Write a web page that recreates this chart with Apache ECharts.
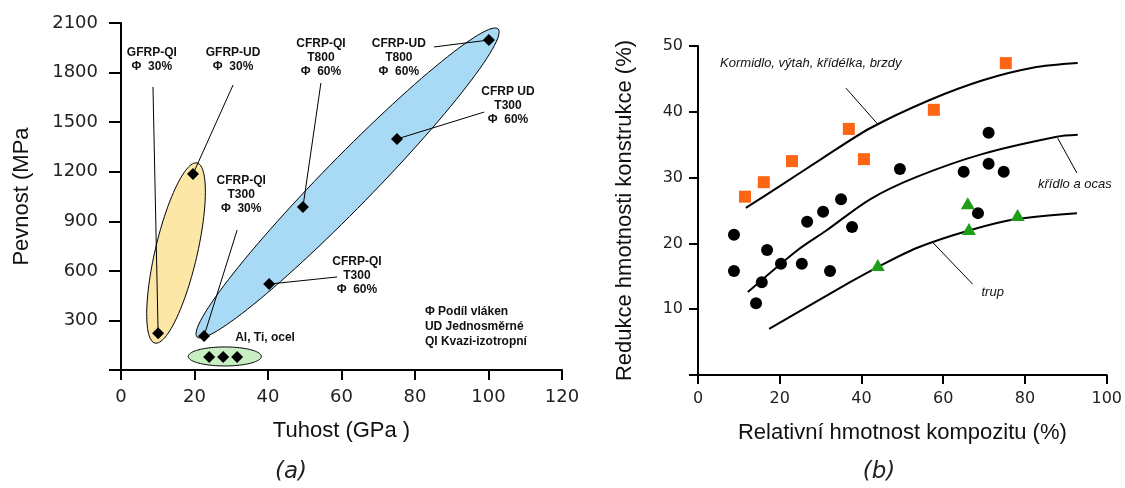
<!DOCTYPE html>
<html>
<head>
<meta charset="utf-8">
<script src="https://cdn.jsdelivr.net/npm/echarts@6/dist/echarts.min.js"></script>
<style>
  html, body { margin: 0; padding: 0; background: #fff; }
  #chart { width: 1125px; height: 488px; }
</style>
</head>
<body>
<div id="chart"></div>
<script>
// ---------- (a) Pevnost vs. tuhost materiálů ----------
const stiffnessTicks = [0, 20, 40, 60, 80, 100, 120];
const strengthTicks = [0, 300, 600, 900, 1200, 1500, 1800, 2100];

// [tuhost GPa, pevnost MPa]
const gfrpPoints = [[10.1, 222], [19.6, 1186]];
const cfrpPoints = [[22.6, 206], [40.3, 520], [49.5, 986], [75.1, 1398], [100.1, 1997]];
const metalPoints = [[24.0, 78], [27.8, 78], [31.6, 78]];

// material families as ellipses: [x1, y1, x2, y2] tips of the long axis, width ratio
const familyRegions = [
  [9.25, 163, 20.7, 1253, 0.227],   // GFRP
  [20.7, 200, 102.6, 2064, 0.116],  // CFRP
  [18.3, 82, 38.2, 82, 0.26]        // kovy
];

const materialLabels = [
  'GFRP-QI\nΦ  30%',
  'GFRP-UD\nΦ  30%',
  'CFRP-QI\nT300\nΦ  30%',
  'CFRP-QI\nT800\nΦ  60%',
  'CFRP-UD\nT800\nΦ  60%',
  'CFRP UD\nT300\nΦ  60%',
  'CFRP-QI\nT300\nΦ  60%',
  'Al, Ti, ocel'
];
const materialLabelAt = [
  [8.4, 1876], [30.5, 1876], [32.7, 1059], [54.4, 1888],
  [75.6, 1888], [105.3, 1598], [64.2, 569], [39.2, 194]
];
// leader lines: label end -> point
const materialLeaders = [
  [8.7, 1713, 10.1, 222],
  [30.5, 1725, 19.6, 1186],
  [31.6, 847, 22.6, 206],
  [54.4, 1737, 49.5, 986],
  [85.2, 1955, 100.1, 1997],
  [98.8, 1561, 75.1, 1398],
  [58.8, 563, 40.3, 520]
];
const legendNote = 'Φ Podíl vláken\nUD Jednosměrné\nQI Kvazi-izotropní';
const legendNoteAt = [[82.7, 260]];

// ---------- (b) Redukce hmotnosti konstrukce ----------
const massTicks = [0, 20, 40, 60, 80, 100];
const reductionTicks = [0, 10, 20, 30, 40, 50];

const controlSurfacePoints = [[11.5, 27.1], [16.1, 29.3], [23.0, 32.5], [36.9, 37.4], [40.6, 32.8], [57.7, 40.3], [75.3, 47.4]];
const wingTailPoints = [
  [8.8, 21.3], [26.7, 23.3], [30.6, 24.8], [35.0, 26.7], [37.7, 22.5],
  [8.8, 15.8], [16.9, 19.0], [20.3, 16.9], [15.6, 14.1], [14.2, 10.9],
  [25.4, 16.9], [32.3, 15.8], [49.4, 31.3], [65.0, 30.9], [71.1, 36.8],
  [71.1, 32.1], [74.8, 30.9], [68.5, 24.6]
];
const fuselagePoints = [[44.0, 16.7], [66.0, 26.1], [66.3, 22.2], [78.2, 24.3]];

const controlSurfaceTrend = [[11.7, 25.4], [20.0, 28.7], [30.6, 33.0], [42.1, 37.5], [56.7, 41.8], [69.7, 44.8], [81.9, 46.7], [92.9, 47.4]];
const wingTailTrend = [[12.2, 12.6], [24.4, 19.0], [31.5, 22.0], [42.1, 26.7], [53.5, 30.1], [69.7, 33.6], [87.8, 36.2], [92.9, 36.5]];
const fuselageTrend = [[17.4, 7.0], [37.2, 14.1], [44.0, 16.4], [53.5, 19.3], [66.5, 22.0], [78.0, 23.7], [92.7, 24.6]];

const trendLabels = ['Kormidlo, výtah, křídélka, brzdy', 'křídlo a ocas', 'trup'];
const trendLabelAt = [[5.4, 47.4], [92.2, 28.9], [72.1, 12.5]];
const trendLeaders = [
  [36.2, 43.6, 44.0, 38.1],
  [88.0, 36.0, 92.7, 30.7],
  [57.5, 20.1, 67.2, 13.8]
];

// ---------- styles ----------
const regionColors = ['#fde7a6', '#a8daf5', '#c7efc2'];
const tickFont = '"DejaVu Sans", sans-serif';
const textFont = '"Liberation Sans", Arial, sans-serif';

function valueAxisBase(ticks, labelSize, margin, tickLen, hideZero) {
  return {
    type: 'value',
    min: ticks[0],
    max: ticks[ticks.length - 1],
    interval: ticks[1] - ticks[0],
    splitLine: { show: false },
    axisLine: { show: true, onZero: false, lineStyle: { color: '#000', width: 2 } },
    axisTick: { show: true, inside: false, length: tickLen, lineStyle: { color: '#000', width: 2 } },
    axisLabel: {
      color: '#222', fontFamily: tickFont, fontSize: labelSize, margin: margin,
      formatter: v => (hideZero && v === 0) ? '' : String(v)
    },
    nameLocation: 'middle',
    nameTextStyle: { color: '#111', fontFamily: textFont, fontSize: 22 }
  };
}

function ellipseItem(params, api) {
  const p1 = api.coord([api.value(0), api.value(1)]);
  const p2 = api.coord([api.value(2), api.value(3)]);
  const ratio = api.value(4);
  const cx = (p1[0] + p2[0]) / 2, cy = (p1[1] + p2[1]) / 2;
  const dx = p2[0] - p1[0], dy = p2[1] - p1[1];
  const a = Math.sqrt(dx * dx + dy * dy) / 2, b = a * ratio;
  const th = Math.atan2(dy, dx);
  const pts = [];
  for (let i = 0; i < 120; i++) {
    const t = i / 120 * Math.PI * 2;
    pts.push([
      cx + a * Math.cos(t) * Math.cos(th) - b * Math.sin(t) * Math.sin(th),
      cy + a * Math.cos(t) * Math.sin(th) + b * Math.sin(t) * Math.cos(th)
    ]);
  }
  return {
    type: 'polygon',
    shape: { points: pts },
    style: { fill: regionColors[params.dataIndex], stroke: '#000', lineWidth: 1 }
  };
}

function leaderItem(params, api) {
  const p1 = api.coord([api.value(0), api.value(1)]);
  const p2 = api.coord([api.value(2), api.value(3)]);
  return {
    type: 'line',
    shape: { x1: p1[0], y1: p1[1], x2: p2[0], y2: p2[1] },
    style: { stroke: '#000', lineWidth: 1 }
  };
}

function textSeries(xIdx, yIdx, anchors, texts, font, align, lineHeight) {
  return {
    type: 'custom',
    xAxisIndex: xIdx, yAxisIndex: yIdx,
    z: 6, silent: true,
    data: anchors,
    renderItem: (params, api) => {
      const p = api.coord([api.value(0), api.value(1)]);
      const al = Array.isArray(align) ? align[params.dataIndex] : align;
      return {
        type: 'text', x: p[0], y: p[1],
        style: {
          text: texts[params.dataIndex], fill: '#111', font: font,
          align: al, verticalAlign: 'middle', lineHeight: lineHeight
        }
      };
    }
  };
}

function markSeries(xIdx, yIdx, symbol, size, color, data) {
  return {
    type: 'scatter', xAxisIndex: xIdx, yAxisIndex: yIdx, z: 3,
    symbol: symbol, symbolSize: size,
    itemStyle: { color: color, opacity: 1 },
    data: data
  };
}

const chart = echarts.init(document.getElementById('chart'), null, { renderer: 'canvas' });

const option = {
  animation: false,
  backgroundColor: '#fff',
  grid: [
    { left: 121, top: 23, width: 441, height: 347, containLabel: false },
    { left: 698, top: 46, width: 409, height: 329, containLabel: false }
  ],
  xAxis: [
    Object.assign(valueAxisBase(stiffnessTicks, 18, 18, 10, false), {
      gridIndex: 0, name: 'Tuhost (GPa )', nameGap: 50
    }),
    Object.assign(valueAxisBase(massTicks, 16, 16, 9, false), {
      gridIndex: 1, name: 'Relativní hmotnost kompozitu (%)', nameGap: 47
    })
  ],
  yAxis: [
    Object.assign(valueAxisBase(strengthTicks, 18, 23, 12, true), {
      gridIndex: 0, name: 'Pevnost (MPa', nameGap: 88
    }),
    Object.assign(valueAxisBase(reductionTicks, 16, 15, 9, true), {
      gridIndex: 1, name: 'Redukce hmotnosti konstrukce (%)', nameGap: 62
    })
  ],
  graphic: [
    { type: 'text', x: 291, y: 472, style: { text: '(a)', font: 'italic 23px "DejaVu Sans", sans-serif', fill: '#222', align: 'center', verticalAlign: 'middle' } },
    { type: 'text', x: 879, y: 472, style: { text: '(b)', font: 'italic 23px "DejaVu Sans", sans-serif', fill: '#222', align: 'center', verticalAlign: 'middle' } }
  ],
  series: [
    // (a)
    { type: 'custom', xAxisIndex: 0, yAxisIndex: 0, z: 1, silent: true, data: familyRegions, renderItem: ellipseItem },
    { type: 'custom', xAxisIndex: 0, yAxisIndex: 0, z: 2, silent: true, data: materialLeaders, renderItem: leaderItem },
    markSeries(0, 0, 'diamond', 12, '#000', gfrpPoints),
    markSeries(0, 0, 'diamond', 12, '#000', cfrpPoints),
    markSeries(0, 0, 'diamond', 12, '#000', metalPoints),
    textSeries(0, 0, materialLabelAt, materialLabels, 'bold 12px "Liberation Sans", Arial, sans-serif', 'center', 14),
    textSeries(0, 0, legendNoteAt, [legendNote], 'bold 12px "Liberation Sans", Arial, sans-serif', 'left', 15),

    // (b)
    { type: 'line', xAxisIndex: 1, yAxisIndex: 1, z: 2, smooth: 0.3, showSymbol: false, silent: true, lineStyle: { color: '#000', width: 2 }, data: controlSurfaceTrend },
    { type: 'line', xAxisIndex: 1, yAxisIndex: 1, z: 2, smooth: 0.3, showSymbol: false, silent: true, lineStyle: { color: '#000', width: 2 }, data: wingTailTrend },
    { type: 'line', xAxisIndex: 1, yAxisIndex: 1, z: 2, smooth: 0.3, showSymbol: false, silent: true, lineStyle: { color: '#000', width: 2 }, data: fuselageTrend },
    { type: 'custom', xAxisIndex: 1, yAxisIndex: 1, z: 2, silent: true, data: trendLeaders, renderItem: leaderItem },
    markSeries(1, 1, 'rect', 12, '#fb6514', controlSurfacePoints),
    markSeries(1, 1, 'circle', 12, '#000', wingTailPoints),
    markSeries(1, 1, 'triangle', [14, 12], '#1f9e1a', fuselagePoints),
    textSeries(1, 1, trendLabelAt, trendLabels, 'italic 13px "Liberation Sans", Arial, sans-serif', ['left', 'center', 'center'], 15)
  ]
};

chart.setOption(option);
</script>
</body>
</html>
